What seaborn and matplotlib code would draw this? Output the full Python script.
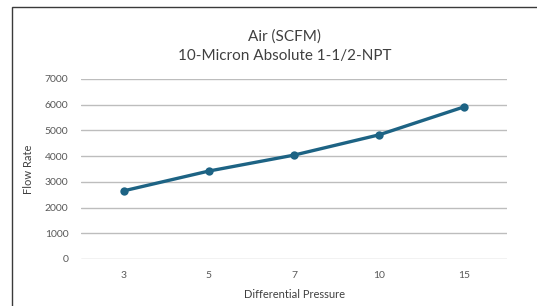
import matplotlib
matplotlib.use("Agg")
import matplotlib.pyplot as plt
from matplotlib.patches import Rectangle
import pandas as pd
import seaborn as sns

pressure = ["3", "5", "7", "10", "15"]
flow = [2650, 3420, 4040, 4830, 5920]
yticks = [0, 1000, 2000, 3000, 4000, 5000, 6000, 7000]

sns.set_theme(style="white")
plt.rcParams["font.family"] = ["Lato", "DejaVu Sans"]

data = pd.DataFrame({"Differential Pressure": pressure, "Flow Rate": flow})

fig = plt.figure(figsize=(5.37, 3.06), dpi=100)
ax = fig.add_axes([81/537, 1 - 259/306, 426/537, 180/306])

# outer frame, partly cut off at the right and bottom
fig.patches.append(Rectangle((12/537, -0.1), 1.2, 1.1 - 7/306,
                             transform=fig.transFigure, fill=False,
                             edgecolor="#3a3a3a", linewidth=1.0))

sns.lineplot(data=data, x="Differential Pressure", y="Flow Rate", ax=ax,
             color="#1d6384", linewidth=2.4, marker="o", markersize=6,
             markeredgewidth=0, sort=False)

ax.set_xlim(-0.5, 4.5)
ax.set_ylim(0, 7000)
ax.set_yticks(yticks)
for y in yticks:
    ax.axhline(y, color="#bdbdbd", linewidth=1.0, zorder=0)
sns.despine(ax=ax, left=True, bottom=True)
ax.tick_params(axis="both", length=0, labelsize=7.5, labelcolor="#595959")
ax.tick_params(axis="y", pad=9)
ax.tick_params(axis="x", pad=9)
ax.set_xlabel("Differential Pressure", fontsize=8, color="#404040", labelpad=6)
ax.set_ylabel("Flow Rate", fontsize=8, color="#404040", labelpad=8)
ax.set_title("Air (SCFM)\n10-Micron Absolute 1-1/2-NPT", fontsize=11,
             color="#404040", pad=14, linespacing=1.4, x=(285 - 81) / 426)

fig.savefig("out.png", dpi=100)
